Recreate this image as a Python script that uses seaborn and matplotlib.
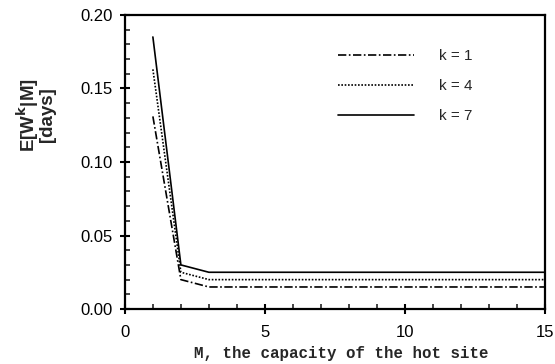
import numpy as np
import pandas as pd
import matplotlib
matplotlib.use("Agg")
import matplotlib.pyplot as plt
import seaborn as sns
from matplotlib.ticker import MultipleLocator

# capacity of the hot site
M = [1, 2, 3, 4, 5, 6, 7, 8, 9, 10, 11, 12, 13, 14, 15]

# expected waiting time (days)
w_k1 = [0.131, 0.020, 0.015, 0.015, 0.015, 0.015, 0.015, 0.015, 0.015, 0.015, 0.015, 0.015, 0.015, 0.015, 0.015]
w_k4 = [0.163, 0.025, 0.020, 0.020, 0.020, 0.020, 0.020, 0.020, 0.020, 0.020, 0.020, 0.020, 0.020, 0.020, 0.020]
w_k7 = [0.185, 0.030, 0.025, 0.025, 0.025, 0.025, 0.025, 0.025, 0.025, 0.025, 0.025, 0.025, 0.025, 0.025, 0.025]

labels = ["k = 1", "k = 4", "k = 7"]

sns.set_style("ticks")
plt.rcParams['font.family'] = ['Liberation Sans', 'DejaVu Sans']

fig = plt.figure(figsize=(5.55, 3.64), dpi=100)
ax = fig.add_axes([0.225, 0.151, 0.757, 0.808])

styles = [(0, (5, 1.5, 1, 1.5)), (0, (1, 1)), "-"]
for vals, lab, ls in zip([w_k1, w_k4, w_k7], labels, styles):
    df = pd.DataFrame({"M": M, "W": vals})
    sns.lineplot(data=df, x="M", y="W", ax=ax, color="black", linewidth=1.2,
                 linestyle=ls, label=lab)

ax.set_xlim(0, 15)
ax.set_ylim(0, 0.20)
ax.xaxis.set_major_locator(MultipleLocator(5))
ax.xaxis.set_minor_locator(MultipleLocator(1))
ax.yaxis.set_major_locator(MultipleLocator(0.05))
ax.yaxis.set_minor_locator(MultipleLocator(0.01))
ax.yaxis.set_major_formatter(matplotlib.ticker.FormatStrFormatter("%.2f"))

ax.tick_params(which="major", direction="inout", length=7, width=1.5, labelsize=12, colors="black")
ax.tick_params(which="minor", direction="in", length=3.5, width=1.2)
ax.tick_params(axis="x", which="major", pad=8)
ax.tick_params(axis="y", which="major", pad=5)

for s in ax.spines.values():
    s.set_visible(True)
    s.set_linewidth(1.6)
    s.set_color("black")

ax.set_xlabel("M, the capacity of the hot site", family=["Liberation Mono", "DejaVu Sans Mono"],
              fontsize=11.3, fontweight="bold")
ax.xaxis.set_label_coords(0.515, -0.125)
ax.set_ylabel("E[W$^{\\bf k}$|M]\n[days]", fontsize=13.5, fontweight="bold",
              linespacing=0.85)
ax.yaxis.set_label_coords(-0.165, 0.66)

leg = ax.legend(loc="upper right", bbox_to_anchor=(0.86, 0.93), frameon=False,
                handlelength=5.0, handletextpad=1.6, labelspacing=1.05, fontsize=11)

fig.savefig("out.png", dpi=100)
